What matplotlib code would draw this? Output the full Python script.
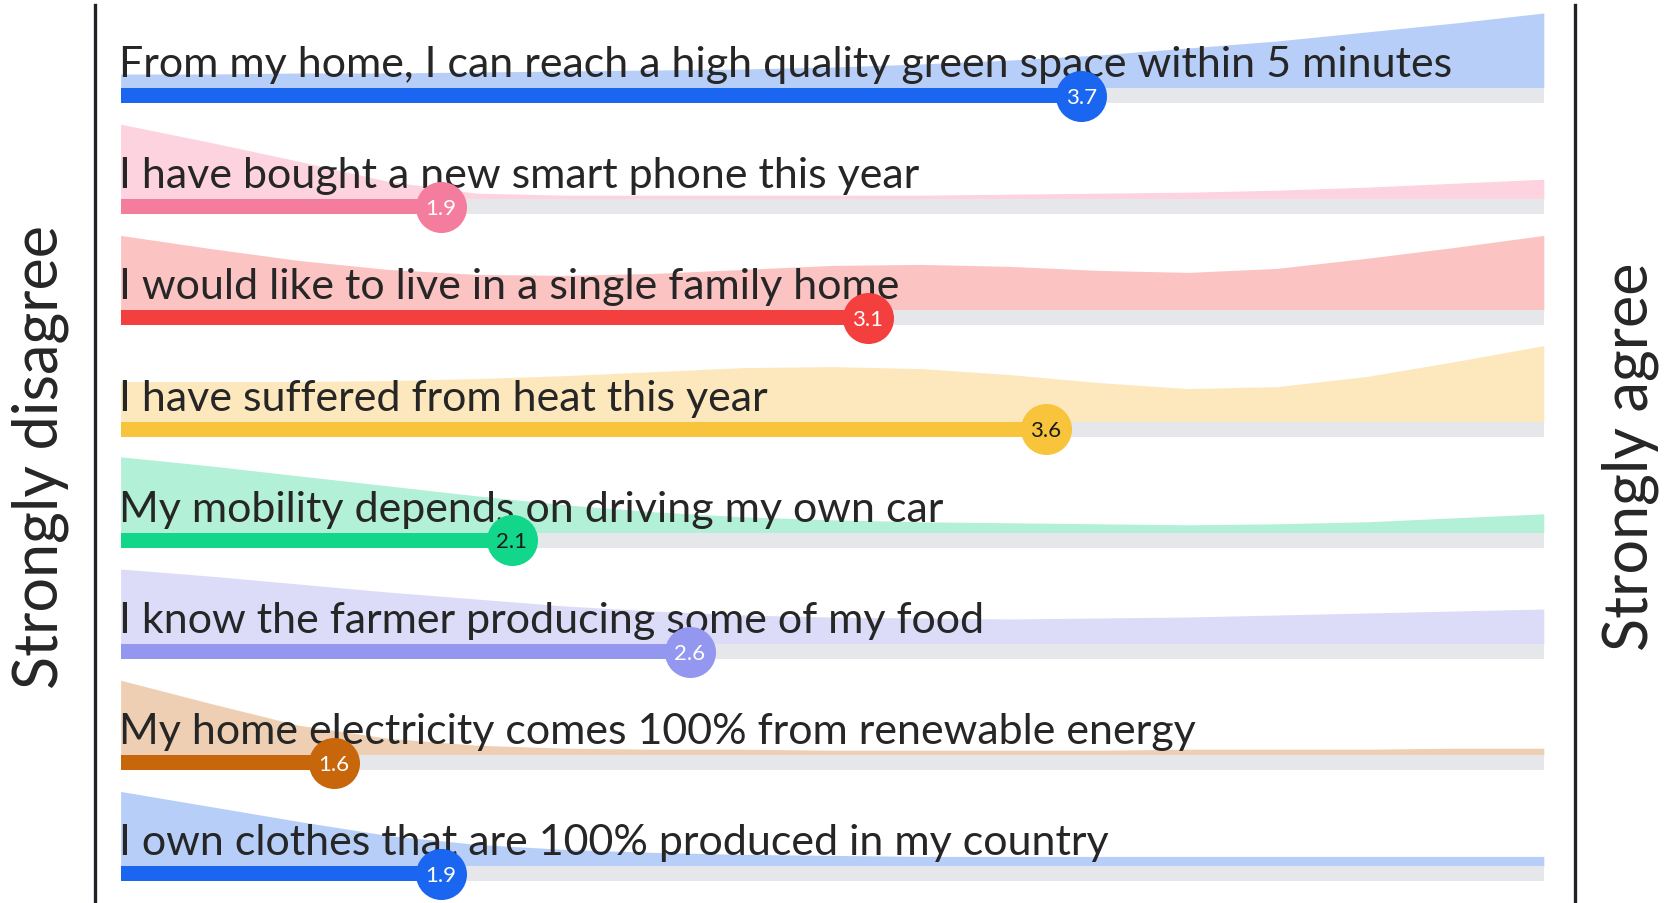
import numpy as np
import matplotlib.pyplot as plt
from matplotlib.lines import Line2D

plt.rcParams['font.family'] = ['Lato', 'DejaVu Sans']

# survey statements and mean scores (1 = strongly disagree, 5 = strongly agree)
statements = [
    "From my home, I can reach a high quality green space within 5 minutes",
    "I have bought a new smart phone this year",
    "I would like to live in a single family home",
    "I have suffered from heat this year",
    "My mobility depends on driving my own car",
    "I know the farmer producing some of my food",
    "My home electricity comes 100% from renewable energy",
    "I own clothes that are 100% produced in my country",
]
means = [3.7, 1.9, 3.1, 3.6, 2.1, 2.6, 1.6, 1.9]

# answer distribution shape, read at 1, 1.25, ... 5
grid = [1, 1.25, 1.5, 1.75, 2, 2.25, 2.5, 2.75, 3, 3.25, 3.5, 3.75, 4, 4.25, 4.5, 4.75, 5]
dens_green_space = [14, 14, 15, 15, 16, 17, 18, 19, 21, 24, 28, 33, 40, 47, 56, 65, 75]
dens_phone = [75, 57, 38, 18, 6, 4, 4, 4, 4, 4, 5, 6, 7, 9, 12, 16, 20]
dens_family_home = [75, 62, 50, 41, 36, 35, 37, 41, 45, 46, 44, 40, 38, 42, 52, 63, 75]
dens_heat = [40, 40, 40, 41, 43, 46, 50, 54, 55, 53, 47, 39, 33, 35, 45, 60, 76]
dens_car = [76, 67, 57, 47, 37, 28, 21, 16, 13, 11, 10, 9, 8, 9, 11, 15, 19]
dens_farmer = [75, 68, 60, 52, 45, 38, 33, 29, 27, 26, 25, 26, 27, 29, 31, 33, 35]
dens_renewable = [75, 52, 30, 17, 10, 7, 6, 6, 5, 5, 5, 5, 6, 6, 6, 7, 7]
dens_clothes = [75, 60, 45, 31, 22, 17, 14, 12, 11, 10, 10, 10, 10, 10, 10, 10, 10]
densities = [dens_green_space, dens_phone, dens_family_home, dens_heat,
             dens_car, dens_farmer, dens_renewable, dens_clothes]

bar_colors = ['#1a66f0', '#f47c9c', '#f43f3f', '#f8c43c',
              '#12d68a', '#9397ef', '#c8660c', '#1a66f0']
dens_colors = ['#b7cff8', '#fcd3de', '#fcc3c3', '#fde8bd',
               '#b3f0d8', '#dcdcf8', '#eecfb3', '#b7cff8']
num_colors = ['white', 'white', 'white', '#1a1a1a',
              '#1a1a1a', 'white', 'white', 'white']

W, H = 1665, 904
fig = plt.figure(figsize=(W / 100, H / 100), dpi=100)
ax = fig.add_axes([0, 0, 1, 1])
ax.axis('off')

# map value 1 -> 120 px, 5 -> 1544 px ; row i centre -> 96.5 + i*111.2 px
px_unit = 355.8
row_px = 111.2
ax.set_xlim(1 - 120.6 / px_unit, 1 + (W - 120.6) / px_unit)
ax.set_ylim((H - 96.5) / row_px, -96.5 / row_px)

half = 7.5 / row_px          # half bar thickness
dscale = 1 / row_px          # density units are ~pixels

for i, (txt, m) in enumerate(zip(statements, means)):
    top = i - half
    d = np.array(densities[i]) * dscale
    ax.fill_between(grid, top - d, top, color=dens_colors[i], lw=0, zorder=1)
    ax.barh(i, 4, left=1, height=2 * half, color='#e5e7ea', zorder=2)
    ax.barh(i, m - 1, left=1, height=2 * half, color=bar_colors[i], zorder=3)
    ax.text(0.995, top - 12 / row_px, txt, fontsize=31, color='#262626',
            va='baseline', ha='left', zorder=4)
    ax.scatter([m], [i], s=1350, color=bar_colors[i], lw=0, zorder=5)
    ax.text(m, i + 0.01, f"{m:.1f}", fontsize=16, color=num_colors[i],
            ha='center', va='center', zorder=6)

# framing lines and end labels
for xp in (95, 1575):
    fig.add_artist(Line2D([xp / W, xp / W], [0, 1 - 6 / H],
                          color='#1f2328', lw=2.4))
fig.text(40 / W, 1 - 457 / H, "Strongly disagree", rotation=90,
         ha='center', va='center', fontsize=44, color='#262626')
fig.text(1630 / W, 1 - 457 / H, "Strongly agree", rotation=90,
         ha='center', va='center', fontsize=44, color='#262626')

fig.savefig('out.png', dpi=100, facecolor='white')
